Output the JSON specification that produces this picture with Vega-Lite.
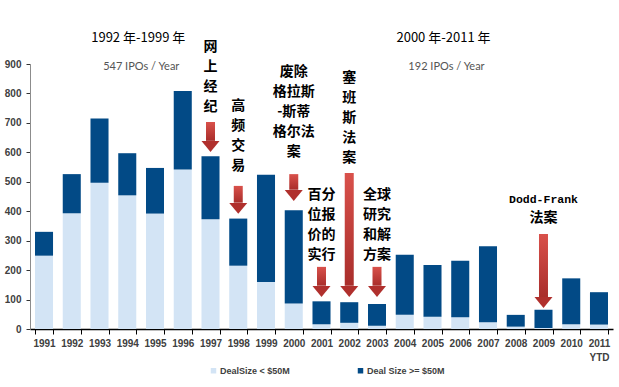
{
  "$schema": "https://vega.github.io/schema/vega-lite/v6.json",
  "width": 583,
  "height": 265,
  "autosize": "none",
  "padding": {"left": 30, "top": 64, "right": 6, "bottom": 58},
  "background": "white",
  "config": {
    "view": {"stroke": null},
    "font": "Liberation Sans",
    "axisY": {
      "title": null, "grid": false, "labelOverlap": false,
      "labelFont": "Liberation Sans", "labelFontWeight": "bold", "labelFontSize": 10, "labelColor": "#404040",
      "domainColor": "#8c8c8c", "tickColor": "#333333", "tickSize": 4, "labelPadding": 5
    }
  },
  "datasets": {
    "ipo": [
      {"year": "1991", "size": "DealSize < $50M", "count": 249}, {"year": "1991", "size": "Deal Size >= $50M", "count": 81},
      {"year": "1992", "size": "DealSize < $50M", "count": 393}, {"year": "1992", "size": "Deal Size >= $50M", "count": 133},
      {"year": "1993", "size": "DealSize < $50M", "count": 497}, {"year": "1993", "size": "Deal Size >= $50M", "count": 218},
      {"year": "1994", "size": "DealSize < $50M", "count": 454}, {"year": "1994", "size": "Deal Size >= $50M", "count": 143},
      {"year": "1995", "size": "DealSize < $50M", "count": 392}, {"year": "1995", "size": "Deal Size >= $50M", "count": 155},
      {"year": "1996", "size": "DealSize < $50M", "count": 542}, {"year": "1996", "size": "Deal Size >= $50M", "count": 266},
      {"year": "1997", "size": "DealSize < $50M", "count": 373}, {"year": "1997", "size": "Deal Size >= $50M", "count": 214},
      {"year": "1998", "size": "DealSize < $50M", "count": 215}, {"year": "1998", "size": "Deal Size >= $50M", "count": 160},
      {"year": "1999", "size": "DealSize < $50M", "count": 160}, {"year": "1999", "size": "Deal Size >= $50M", "count": 364},
      {"year": "2000", "size": "DealSize < $50M", "count": 87}, {"year": "2000", "size": "Deal Size >= $50M", "count": 316},
      {"year": "2001", "size": "DealSize < $50M", "count": 16}, {"year": "2001", "size": "Deal Size >= $50M", "count": 78},
      {"year": "2002", "size": "DealSize < $50M", "count": 21}, {"year": "2002", "size": "Deal Size >= $50M", "count": 70},
      {"year": "2003", "size": "DealSize < $50M", "count": 11}, {"year": "2003", "size": "Deal Size >= $50M", "count": 74},
      {"year": "2004", "size": "DealSize < $50M", "count": 48}, {"year": "2004", "size": "Deal Size >= $50M", "count": 204},
      {"year": "2005", "size": "DealSize < $50M", "count": 42}, {"year": "2005", "size": "Deal Size >= $50M", "count": 175},
      {"year": "2006", "size": "DealSize < $50M", "count": 40}, {"year": "2006", "size": "Deal Size >= $50M", "count": 192},
      {"year": "2007", "size": "DealSize < $50M", "count": 23}, {"year": "2007", "size": "Deal Size >= $50M", "count": 258},
      {"year": "2008", "size": "DealSize < $50M", "count": 8}, {"year": "2008", "size": "Deal Size >= $50M", "count": 40},
      {"year": "2009", "size": "DealSize < $50M", "count": 3}, {"year": "2009", "size": "Deal Size >= $50M", "count": 62},
      {"year": "2010", "size": "DealSize < $50M", "count": 16}, {"year": "2010", "size": "Deal Size >= $50M", "count": 156},
      {"year": "2011", "size": "DealSize < $50M", "count": 15}, {"year": "2011", "size": "Deal Size >= $50M", "count": 110}
    ],
    "arrows": [
      {"year": "1997", "top": 703, "neck": 639, "tip": 601},
      {"year": "1998", "top": 486, "neck": 429, "tip": 391},
      {"year": "2000", "top": 526, "neck": 473, "tip": 435},
      {"year": "2001", "top": 211, "neck": 147, "tip": 109},
      {"year": "2002", "top": 530, "neck": 147, "tip": 109},
      {"year": "2003", "top": 211, "neck": 147, "tip": 109},
      {"year": "2009", "top": 323, "neck": 109, "tip": 71}
    ],
    "notes": [
      {"year": "1997", "top": 982, "label": "网\n上\n经\n纪"},
      {"year": "1998", "top": 781, "label": "高\n频\n交\n易"},
      {"year": "2000", "top": 897, "label": "废除\n格拉斯\n-斯蒂\n格尔法\n案"},
      {"year": "2002", "top": 876, "label": "塞\n班\n斯\n法\n案"},
      {"year": "2001", "top": 479, "label": "百分\n位报\n价的\n实行"},
      {"year": "2003", "top": 479, "label": "全球\n研究\n和解\n方案"},
      {"year": "2009", "top": 401, "label": "法案"}
    ],
    "latin": [
      {"year": "2009", "top": 459, "label": "Dodd-Frank"}
    ],
    "eras": [
      {"year": "1994", "period": "1992 年-1999 年", "rate": "547 IPOs / Year", "periodY": 988, "rateY": 890},
      {"year": "2005", "period": "2000 年-2011 年", "rate": "192 IPOs / Year", "periodY": 988, "rateY": 890}
    ]
  },
  "layer": [
    {
      "data": {"name": "ipo"},
      "mark": {"type": "bar"},
      "encoding": {
        "x": {
          "field": "year", "type": "ordinal",
          "scale": {"paddingInner": 0.35, "paddingOuter": 0.18},
          "axis": {
            "title": null, "labelAngle": 0, "labelFont": "Liberation Sans", "labelFontWeight": "bold",
            "labelFontSize": 10, "labelColor": "#404040", "domainColor": "#000000", "domainWidth": 1.5,
            "tickColor": "#000000", "tickSize": 5, "tickBand": "extent", "labelPadding": 4,
            "labelLineHeight": 14,
            "labelExpr": "datum.value == '2011' ? ['2011', 'YTD'] : datum.value"
          }
        },
        "y": {
          "field": "count", "type": "quantitative", "stack": "zero",
          "scale": {"domain": [0, 900], "nice": false},
          "axis": {"title": null, "values": [0, 100, 200, 300, 400, 500, 600, 700, 800, 900]}
        },
        "color": {
          "field": "size", "type": "nominal",
          "scale": {"domain": ["DealSize < $50M", "Deal Size >= $50M"], "range": ["#D3E4F5", "#024A86"]},
          "legend": {
            "title": null, "orient": "none", "direction": "horizontal", "legendX": 179, "legendY": 302,
            "symbolType": "square", "symbolSize": 30, "symbolStrokeWidth": 0, "symbolOffset": 0,
            "labelFont": "Liberation Sans", "labelFontWeight": "bold", "labelFontSize": 9, "labelColor": "#404040",
            "labelOffset": 2, "columnPadding": 66, "padding": 0
          }
        },
        "order": {"field": "size", "sort": "descending"}
      }
    },
    {
      "data": {"name": "arrows"},
      "mark": {
        "type": "bar", "width": 9,
        "color": {"gradient": "linear", "x1": 0, "y1": 0, "x2": 0, "y2": 1,
          "stops": [{"offset": 0, "color": "#D9514B"}, {"offset": 1, "color": "#A92E2B"}]}
      },
      "encoding": {
        "x": {"field": "year", "type": "ordinal"},
        "y": {"field": "top", "type": "quantitative", "axis": {"title": null, "values": [0, 100, 200, 300, 400, 500, 600, 700, 800, 900]}},
        "y2": {"field": "neck"}
      }
    },
    {
      "data": {"name": "arrows"},
      "mark": {"type": "point", "shape": "M-1,-1.22L1,-1.22L0,0Z", "size": 324, "filled": true, "color": "#B0302D", "opacity": 1, "strokeWidth": 0},
      "encoding": {
        "x": {"field": "year", "type": "ordinal"},
        "y": {"field": "tip", "type": "quantitative", "axis": {"title": null, "values": [0, 100, 200, 300, 400, 500, 600, 700, 800, 900]}}
      }
    },
    {
      "data": {"name": "notes"},
      "mark": {"type": "text", "font": "Noto Sans CJK SC", "fontWeight": "bold", "fontSize": 14, "lineHeight": 20, "baseline": "top", "align": "center", "lineBreak": "\n", "color": "#000000"},
      "encoding": {
        "x": {"field": "year", "type": "ordinal"},
        "y": {"field": "top", "type": "quantitative", "axis": {"title": null, "values": [0, 100, 200, 300, 400, 500, 600, 700, 800, 900]}},
        "text": {"field": "label"}
      }
    },
    {
      "data": {"name": "latin"},
      "mark": {"type": "text", "font": "Liberation Mono", "fontWeight": "bold", "fontSize": 11.5, "baseline": "top", "align": "center", "color": "#000000"},
      "encoding": {
        "x": {"field": "year", "type": "ordinal"},
        "y": {"field": "top", "type": "quantitative", "axis": {"title": null, "values": [0, 100, 200, 300, 400, 500, 600, 700, 800, 900]}},
        "text": {"field": "label"}
      }
    },
    {
      "data": {"name": "eras"},
      "mark": {"type": "text", "font": "Noto Sans CJK SC", "fontSize": 13, "dx": 11, "baseline": "middle", "align": "center", "color": "#000000"},
      "encoding": {
        "x": {"field": "year", "type": "ordinal"},
        "y": {"field": "periodY", "type": "quantitative", "axis": {"title": null, "values": [0, 100, 200, 300, 400, 500, 600, 700, 800, 900]}},
        "text": {"field": "period"}
      }
    },
    {
      "data": {"name": "eras"},
      "mark": {"type": "text", "font": "Lato", "fontSize": 11, "dx": 14, "baseline": "middle", "align": "center", "color": "#555555"},
      "encoding": {
        "x": {"field": "year", "type": "ordinal"},
        "y": {"field": "rateY", "type": "quantitative", "axis": {"title": null, "values": [0, 100, 200, 300, 400, 500, 600, 700, 800, 900]}},
        "text": {"field": "rate"}
      }
    }
  ]
}
